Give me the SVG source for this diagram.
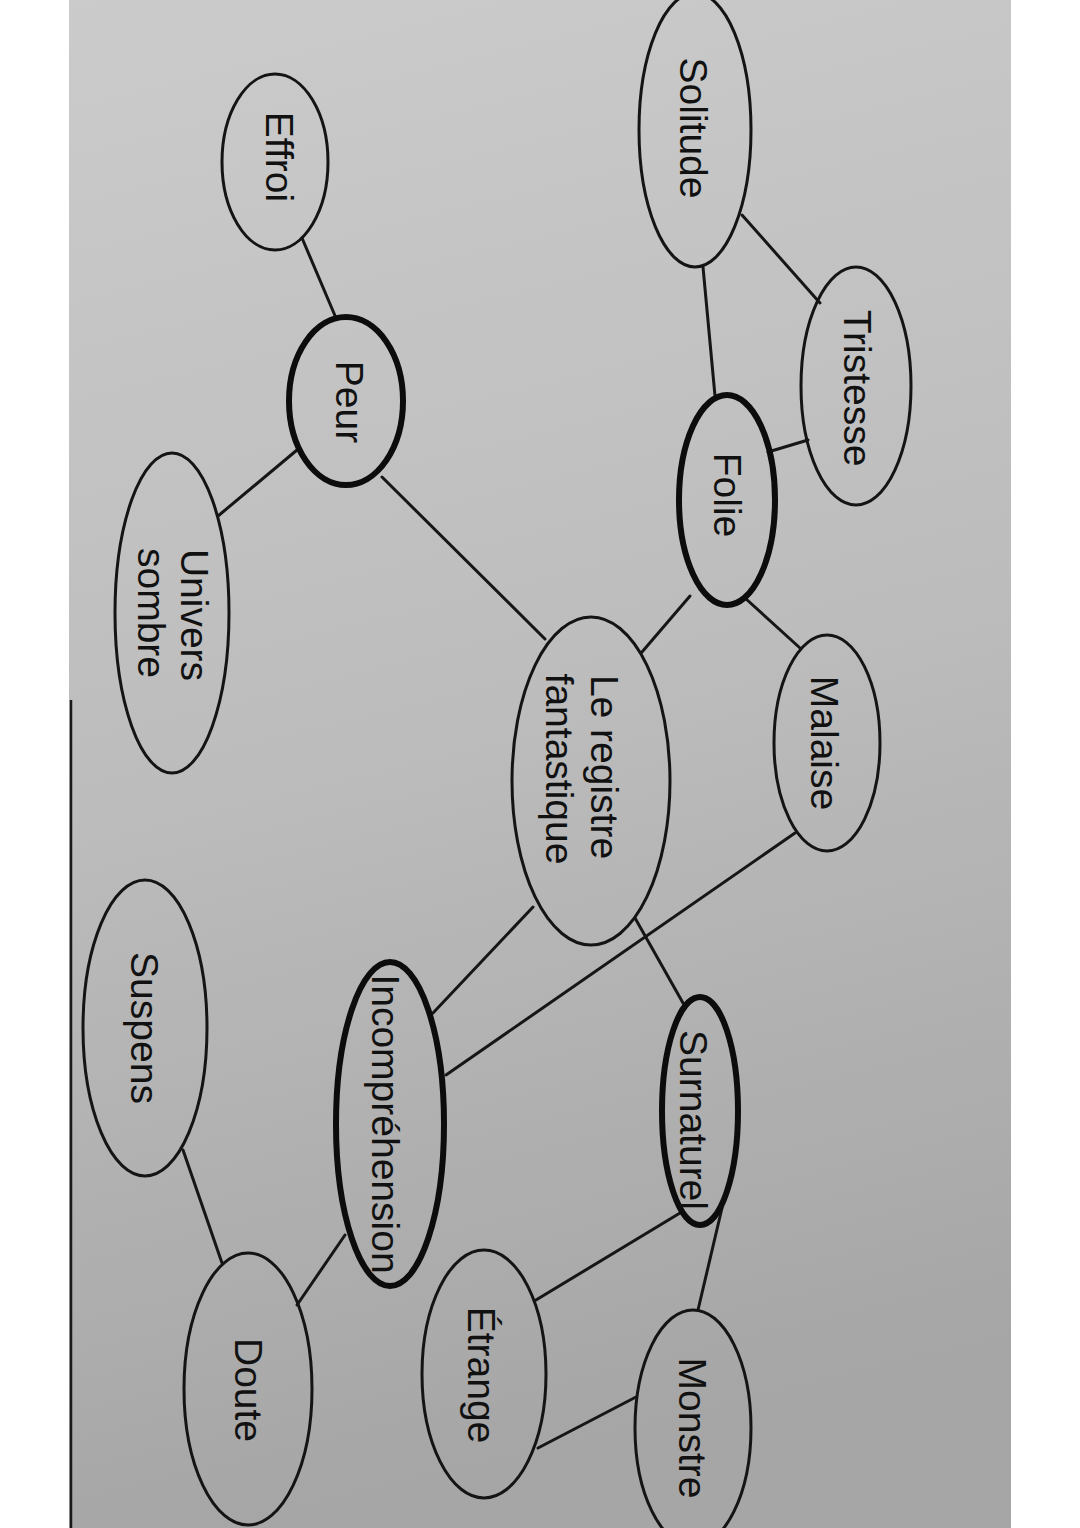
<svg xmlns="http://www.w3.org/2000/svg" width="1080" height="1528" viewBox="0 0 1080 1528">
<defs>
<linearGradient id="bg" x1="0" y1="0" x2="0.15" y2="1">
<stop offset="0" stop-color="#cbcbcb"/>
<stop offset="0.5" stop-color="#bdbdbd"/>
<stop offset="1" stop-color="#a6a6a6"/>
</linearGradient>
</defs>
<style>
.n{fill:none;stroke:#141414;stroke-width:3}
.b{fill:none;stroke:#0c0c0c;stroke-width:6}
.e line{stroke:#161616;stroke-width:3;stroke-linecap:round}
text{font-family:"Liberation Sans",Arial,sans-serif;font-size:39px;fill:#111;text-anchor:middle}
</style>
<rect x="0" y="0" width="1080" height="1528" fill="#ffffff"/>
<rect x="69" y="0" width="942" height="1528" fill="url(#bg)"/>
<line x1="71" y1="700" x2="71" y2="1528" stroke="#1a1a1a" stroke-width="2.5"/>
<g id="connectors" class="e">
<line x1="742" y1="215" x2="820" y2="303"/>
<line x1="703" y1="267" x2="715" y2="396"/>
<line x1="808" y1="440" x2="768" y2="452"/>
<line x1="302" y1="238" x2="336" y2="318"/>
<line x1="297" y1="450" x2="218" y2="516"/>
<line x1="382" y1="477" x2="545" y2="639"/>
<line x1="745" y1="598" x2="800" y2="648"/>
<line x1="690" y1="596" x2="642" y2="652"/>
<line x1="795" y1="833" x2="446" y2="1075"/>
<line x1="533" y1="907" x2="433" y2="1013"/>
<line x1="635" y1="918" x2="683" y2="1003"/>
<line x1="680" y1="1213" x2="536" y2="1300"/>
<line x1="722" y1="1208" x2="698" y2="1310"/>
<line x1="538" y1="1448" x2="636" y2="1397"/>
<line x1="183" y1="1150" x2="222" y2="1263"/>
<line x1="345" y1="1235" x2="297" y2="1305"/>
</g>
<g id="solitude"><ellipse class="n" cx="695" cy="130" rx="56" ry="137"/><text transform="translate(694,128) rotate(90)" dy="0.35em">Solitude</text></g>
<g id="tristesse"><ellipse class="n" cx="856" cy="386" rx="55" ry="119"/><text transform="translate(858,388) rotate(90)" dy="0.35em">Tristesse</text></g>
<g id="effroi"><ellipse class="n" cx="275" cy="162" rx="53" ry="88"/><text transform="translate(280,157) rotate(90)" dy="0.35em">Effroi</text></g>
<g id="peur"><ellipse class="b" cx="346" cy="401" rx="57" ry="84"/><text transform="translate(350,402) rotate(90)" dy="0.35em">Peur</text></g>
<g id="folie"><ellipse class="b" cx="727" cy="500" rx="48" ry="105"/><text transform="translate(728,495) rotate(90)" dy="0.35em">Folie</text></g>
<g id="malaise"><ellipse class="n" cx="827" cy="743" rx="53" ry="108"/><text transform="translate(825,743) rotate(90)" dy="0.35em">Malaise</text></g>
<g id="univers-sombre"><ellipse class="n" cx="172" cy="613" rx="57" ry="160"/><text transform="translate(195,615) rotate(90)" dy="0.35em">Univers</text><text transform="translate(152,613) rotate(90)" dy="0.35em">sombre</text></g>
<g id="registre-fantastique"><ellipse class="n" cx="591" cy="781" rx="79" ry="164"/><text transform="translate(605,767) rotate(90)" dy="0.35em">Le registre</text><text transform="translate(560,769) rotate(90)" dy="0.35em">fantastique</text></g>
<g id="suspens"><ellipse class="n" cx="145" cy="1028" rx="62" ry="148"/><text transform="translate(145,1028) rotate(90)" dy="0.35em">Suspens</text></g>
<g id="incomprehension"><ellipse class="b" cx="390" cy="1124" rx="54" ry="162"/><text transform="translate(386,1124) rotate(90)" dy="0.35em">Incompréhension</text></g>
<g id="surnaturel"><ellipse class="b" cx="700" cy="1111" rx="38" ry="114"/><text transform="translate(694,1120) rotate(90)" dy="0.35em">Surnaturel</text></g>
<g id="etrange"><ellipse class="n" cx="484" cy="1374" rx="62" ry="124"/><text transform="translate(482,1375) rotate(90)" dy="0.35em">Étrange</text></g>
<g id="doute"><ellipse class="n" cx="248" cy="1389" rx="64" ry="136"/><text transform="translate(249,1390) rotate(90)" dy="0.35em">Doute</text></g>
<g id="monstre"><ellipse class="n" cx="693" cy="1428" rx="58" ry="118"/><text transform="translate(693,1428) rotate(90)" dy="0.35em">Monstre</text></g>
</svg>
